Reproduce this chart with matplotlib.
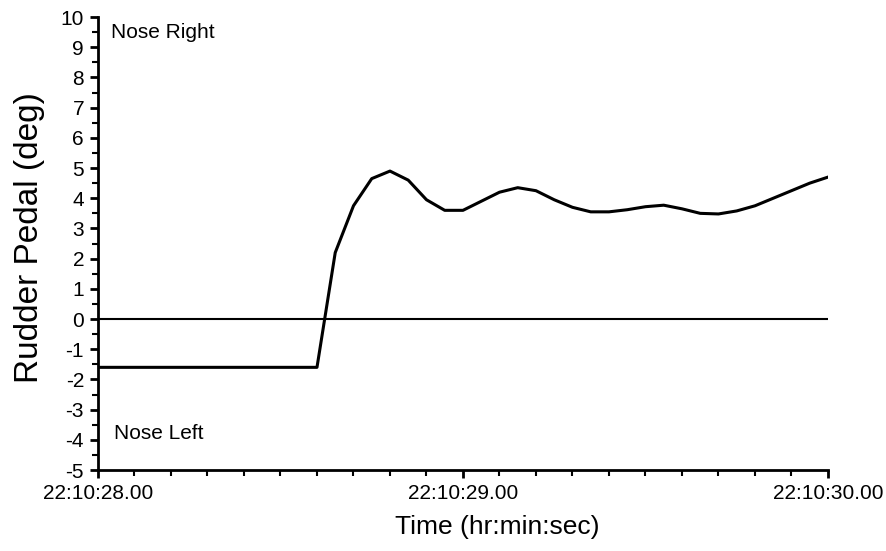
"""Rudder pedal position vs time."""
import matplotlib.pyplot as plt
from matplotlib.ticker import MultipleLocator

plt.rcParams['font.family'] = ['Liberation Sans', 'DejaVu Sans']
plt.rcParams['axes.unicode_minus'] = False

# time in seconds after 22:10:00
time_s = [28.00, 28.60, 28.65, 28.70, 28.75, 28.80, 28.85, 28.90, 28.95,
          29.00, 29.05, 29.10, 29.15, 29.20, 29.25, 29.30, 29.35, 29.40,
          29.45, 29.50, 29.55, 29.60, 29.65, 29.70, 29.75, 29.80, 29.85,
          29.90, 29.95, 30.00]
pedal_deg = [-1.6, -1.6, 2.2, 3.75, 4.65, 4.9, 4.6, 3.95, 3.6,
             3.6, 3.9, 4.2, 4.35, 4.25, 3.95, 3.7, 3.55, 3.55,
             3.62, 3.72, 3.77, 3.65, 3.5, 3.48, 3.58, 3.75, 4.0,
             4.25, 4.5, 4.7]

xtick_pos = [28, 29, 30]
xtick_labels = ['22:10:28.00', '22:10:29.00', '22:10:30.00']

fig = plt.figure(figsize=(8.86, 5.51), dpi=100)
ax = fig.add_axes([0.1106, 0.147, 0.8239, 0.822])

ax.axhline(0, color='black', lw=1.5)
ax.plot(time_s, pedal_deg, color='black', lw=2.2)

ax.set_xlim(28, 30)
ax.set_ylim(-5, 10)
ax.set_xticks(xtick_pos)
ax.set_xticklabels(xtick_labels)
ax.xaxis.set_minor_locator(MultipleLocator(0.1))
ax.set_yticks(range(-5, 11))
ax.yaxis.set_minor_locator(MultipleLocator(0.5))

for side in ['top', 'right']:
    ax.spines[side].set_visible(False)
for side in ['left', 'bottom']:
    ax.spines[side].set_linewidth(2)

ax.tick_params(which='major', length=6, width=2, labelsize=15, pad=4)
ax.tick_params(which='minor', length=4, width=1.5)

ax.text(28.035, 9.5, 'Nose Right', fontsize=15, va='center')
ax.text(28.045, -3.8, 'Nose Left', fontsize=15, va='center')

fig.text(497 / 886, 1 - 527 / 551, 'Time (hr:min:sec)', fontsize=19,
         ha='center', va='center')
fig.text(30 / 886, 1 - 238 / 551, 'Rudder Pedal (deg)', fontsize=24,
         rotation=90, ha='center', va='center')

plt.savefig('out.png', dpi=100)
